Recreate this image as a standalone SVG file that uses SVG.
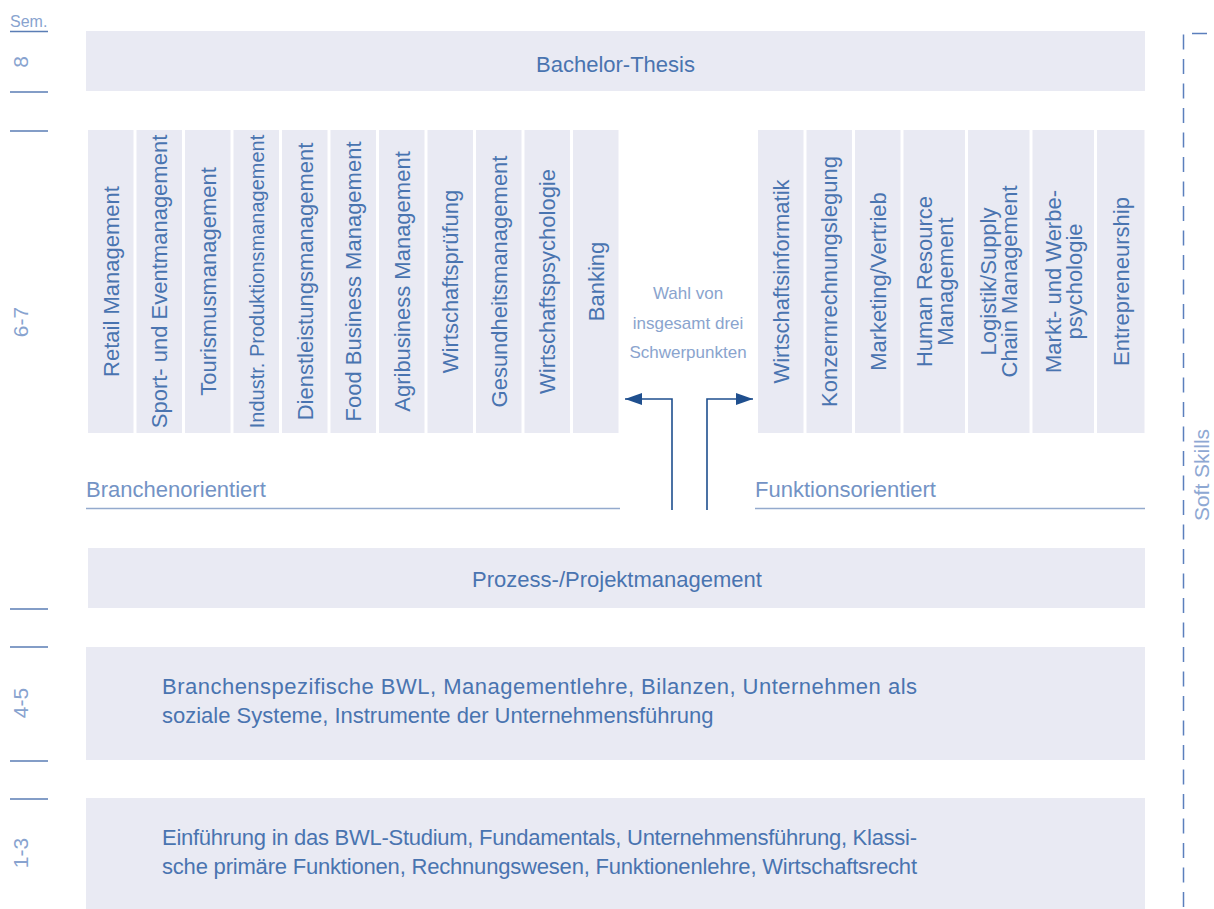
<svg xmlns="http://www.w3.org/2000/svg" width="1214" height="909" viewBox="0 0 1214 909">
<style>
.box{fill:#e9eaf3}
.t{font-family:"Liberation Sans",Arial,sans-serif;font-size:22px;fill:#4974b0}
.v{font-family:"Liberation Sans",Arial,sans-serif;font-size:22px;fill:#4974b0;text-anchor:middle}
.sem{font-family:"Liberation Sans",Arial,sans-serif;font-size:21px;fill:#88a3cf;text-anchor:middle}
.tick{stroke:#5a7db5;stroke-width:1.5;fill:none}
.ul{stroke:#94aacd;stroke-width:1.5;fill:none}
.lbl{font-family:"Liberation Sans",Arial,sans-serif;font-size:22px;fill:#7393c5}
.note{font-family:"Liberation Sans",Arial,sans-serif;font-size:17px;fill:#8aa4ce;text-anchor:middle}
.arr{stroke:#1f4f8e;stroke-width:1.6;fill:none}
</style>
<defs>
<marker id="ah" markerWidth="18" markerHeight="14" refX="17" refY="7" orient="auto" markerUnits="userSpaceOnUse"><path d="M0,1 L17,7 L0,13 Z" fill="#1f4f8e"/></marker>
</defs>

<g id="semester">
<text x="10" y="27" style="font-family:'Liberation Sans',Arial,sans-serif;font-size:16px;fill:#88a3cf">Sem.</text>
<line class="tick" x1="10" y1="31.5" x2="48" y2="31.5"/>
<text class="sem" transform="translate(28,62) rotate(-90)">8</text>
<line class="tick" x1="10" y1="92" x2="48" y2="92"/>
<line class="tick" x1="10" y1="131" x2="48" y2="131"/>
<text class="sem" transform="translate(28,322) rotate(-90)">6-7</text>
<line class="tick" x1="10" y1="609" x2="48" y2="609"/>
<line class="tick" x1="10" y1="647" x2="48" y2="647"/>
<text class="sem" transform="translate(28,703) rotate(-90)">4-5</text>
<line class="tick" x1="10" y1="761" x2="48" y2="761"/>
<line class="tick" x1="10" y1="799" x2="48" y2="799"/>
<text class="sem" transform="translate(28,853) rotate(-90)">1-3</text>
</g>

<g id="bachelor">
<rect class="box" x="86" y="31" width="1059" height="60"/>
<text class="t" x="615.5" y="72" text-anchor="middle">Bachelor-Thesis</text>
</g>

<g id="branchen">
<rect class="box" x="88" y="130" width="45.5" height="303"/>
<text class="v" transform="translate(118.75,281.5) rotate(-90)">Retail Management</text>
<rect class="box" x="136.5" y="130" width="45.5" height="303"/>
<text class="v" transform="translate(167.25,281.5) rotate(-90)">Sport- und Eventmanagement</text>
<rect class="box" x="185" y="130" width="45.5" height="303"/>
<text class="v" transform="translate(215.75,281.5) rotate(-90)">Tourismusmanagement</text>
<rect class="box" x="233.5" y="130" width="45.5" height="303"/>
<text class="v" style="font-size:20px" transform="translate(263.5,281.5) rotate(-90)">Industr. Produktionsmanagement</text>
<rect class="box" x="282" y="130" width="45.5" height="303"/>
<text class="v" transform="translate(312.75,281.5) rotate(-90)">Dienstleistungsmanagement</text>
<rect class="box" x="330.5" y="130" width="45.5" height="303"/>
<text class="v" transform="translate(361.25,281.5) rotate(-90)">Food Business Management</text>
<rect class="box" x="379" y="130" width="45.5" height="303"/>
<text class="v" transform="translate(409.75,281.5) rotate(-90)">Agribusiness Management</text>
<rect class="box" x="427.5" y="130" width="45.5" height="303"/>
<text class="v" transform="translate(458.25,281.5) rotate(-90)">Wirtschaftsprüfung</text>
<rect class="box" x="476" y="130" width="45.5" height="303"/>
<text class="v" transform="translate(506.75,281.5) rotate(-90)">Gesundheitsmanagement</text>
<rect class="box" x="524.5" y="130" width="45.5" height="303"/>
<text class="v" transform="translate(555.25,281.5) rotate(-90)">Wirtschaftspsychologie</text>
<rect class="box" x="573" y="130" width="45.5" height="303"/>
<text class="v" transform="translate(603.75,281.5) rotate(-90)">Banking</text>
<text class="lbl" x="86" y="497">Branchenorientiert</text>
<line class="ul" x1="86" y1="508.5" x2="620" y2="508.5"/>
</g>

<g id="funktion">
<rect class="box" x="758" y="130" width="45.5" height="303"/>
<text class="v" transform="translate(788.75,281.5) rotate(-90)">Wirtschaftsinformatik</text>
<rect class="box" x="806.5" y="130" width="45.5" height="303"/>
<text class="v" transform="translate(837.25,281.5) rotate(-90)">Konzernrechnungslegung</text>
<rect class="box" x="855" y="130" width="45.5" height="303"/>
<text class="v" transform="translate(885.75,281.5) rotate(-90)">Marketing/Vertrieb</text>
<rect class="box" x="903.5" y="130" width="61.5" height="303"/>
<text class="v" transform="translate(931.75,281.5) rotate(-90)">Human Resource</text>
<text class="v" transform="translate(952.75,281.5) rotate(-90)">Management</text>
<rect class="box" x="968" y="130" width="61.5" height="303"/>
<text class="v" transform="translate(996.25,281.5) rotate(-90)">Logistik/Supply</text>
<text class="v" transform="translate(1017.25,281.5) rotate(-90)">Chain Management</text>
<rect class="box" x="1032.5" y="130" width="61.5" height="303"/>
<text class="v" transform="translate(1060.75,281.5) rotate(-90)">Markt- und Werbe-</text>
<text class="v" transform="translate(1081.75,281.5) rotate(-90)">psychologie</text>
<rect class="box" x="1097" y="130" width="47.5" height="303"/>
<text class="v" transform="translate(1128.75,281.5) rotate(-90)">Entrepreneurship</text>
<text class="lbl" x="755" y="497">Funktionsorientiert</text>
<line class="ul" x1="755" y1="508.5" x2="1145" y2="508.5"/>
</g>

<g id="wahl">
<text class="note" x="688" y="299">Wahl von</text>
<text class="note" x="688" y="328.5">insgesamt drei</text>
<text class="note" x="688" y="358">Schwerpunkten</text>
</g>

<g id="connectors">
<path class="arr" d="M672,510 V399 H625" marker-end="url(#ah)"/>
<path class="arr" d="M707,510 V399 H753" marker-end="url(#ah)"/>
</g>

<g id="prozess">
<rect class="box" x="88" y="548" width="1057" height="60"/>
<text class="t" x="617" y="587" text-anchor="middle">Prozess-/Projektmanagement</text>
</g>

<g id="sem45">
<rect class="box" x="86" y="647" width="1059" height="113"/>
<text class="t" x="162" y="694" textLength="755" lengthAdjust="spacing">Branchenspezifische BWL, Managementlehre, Bilanzen, Unternehmen als</text>
<text class="t" x="162" y="723">soziale Systeme, Instrumente der Unternehmensführung</text>
</g>

<g id="sem13">
<rect class="box" x="86" y="798" width="1059" height="111"/>
<text class="t" x="162" y="845" textLength="755" lengthAdjust="spacing">Einführung in das BWL-Studium, Fundamentals, Unternehmensführung, Klassi-</text>
<text class="t" x="162" y="874" textLength="755" lengthAdjust="spacing">sche primäre Funktionen, Rechnungswesen, Funktionenlehre, Wirtschaftsrecht</text>
</g>

<g id="softskills">
<path d="M1214,33.5 H1183.5 V909" fill="none" stroke="#5b7fbd" stroke-width="1.5" stroke-dasharray="15 9.5" stroke-dashoffset="17.5"/>
<text transform="translate(1209,475) rotate(-90)" text-anchor="middle" style="font-family:'Liberation Sans',Arial,sans-serif;font-size:21px;fill:#8ea8d3">Soft Skills</text>
</g>
</svg>
